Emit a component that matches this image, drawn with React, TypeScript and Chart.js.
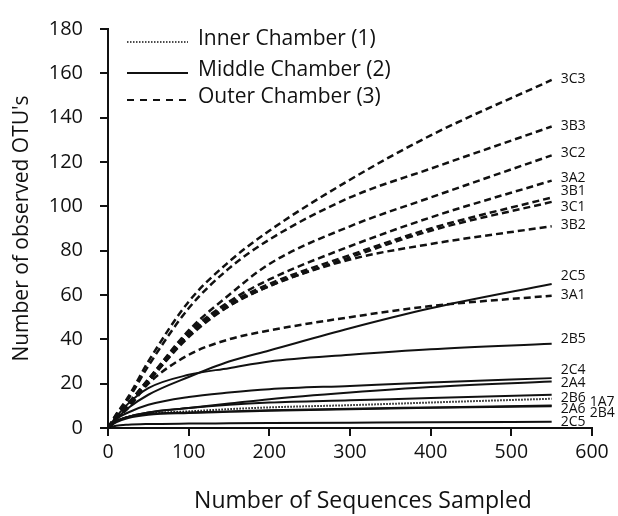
import React, { useEffect, useRef } from 'react';
import { Chart, registerables } from 'chart.js';

Chart.register(...registerables);

// Number of sequences sampled (x values)
const sequences = [0, 10, 25, 50, 100, 150, 200, 300, 400, 550];

// Observed OTUs per sample (y values)
const s3C3 = [0, 6, 14, 30, 57, 75, 89, 112, 132, 157];
const s3B3 = [0, 6, 13, 28, 54, 72, 85, 104, 117, 136];
const s3C2 = [0, 5, 11, 22, 44, 60, 74, 91, 104, 123];
const s3A2 = [0, 5, 11, 22, 43, 57, 67, 82, 95, 111.6];
const s3B1 = [0, 5, 11, 21, 42, 56, 65, 78, 90, 104];
const s3C1 = [0, 5, 11, 21, 42, 55, 64, 77, 89, 102];
const s3B2 = [0, 5, 10, 21, 41, 55, 64, 76, 83, 91];
const s3A1 = [0, 4, 9, 20, 33, 40, 44, 50, 55, 59.7];
const s2C5a = [0, 4, 9, 15, 23, 30, 35, 45, 54, 65];
const s2B5 = [0, 5, 11, 18, 24, 27, 30, 33, 35.5, 38];
const s2C4 = [0, 4, 7, 10.5, 14, 16, 17.5, 19, 20.5, 22.5];
const s2A4 = [0, 3, 5, 7, 9, 11, 13, 16, 18.5, 21];
const s2B6 = [0, 3, 5, 7, 9, 10.5, 11.5, 12.5, 13.5, 15];
const s1A7 = [0, 3, 5, 6.5, 7.5, 8.5, 9.3, 10.3, 11.5, 13.2];
const s2A6 = [0, 3, 5, 6.3, 7, 7.5, 8, 8.7, 9.3, 10.2];
const s2B4 = [0, 2.5, 4.5, 6, 6.8, 7.3, 7.8, 8.5, 9.1, 9.8];
const s2C5b = [0, 1, 1.5, 1.8, 2, 2.1, 2.2, 2.4, 2.6, 2.8];

const sampleNames = ['3C3', '3B3', '3C2', '3A2', '3B1', '3C1', '3B2', '3A1', '2C5', '2B5', '2C4', '2A4', '2B6', '1A7', '2A6', '2B4', '2C5'];
const sampleChambers = [3, 3, 3, 3, 3, 3, 3, 3, 2, 2, 2, 2, 2, 1, 2, 2, 2];
const sampleValues = [s3C3, s3B3, s3C2, s3A2, s3B1, s3C1, s3B2, s3A1, s2C5a, s2B5, s2C4, s2A4, s2B6, s1A7, s2A6, s2B4, s2C5b];

const legendLabels = ['Inner Chamber (1)', 'Middle Chamber (2)', 'Outer Chamber (3)'];

const xTicks = [0, 100, 200, 300, 400, 500, 600];
const yTicks = [0, 20, 40, 60, 80, 100, 120, 140, 160, 180];

// label placement tweaks (pixels) [dx, dy]
const labelOffsets: [number, number][] = [
  [9, -1], [9, -1], [9, -2], [9, -2.5], [9, -6], [9, 5], [9, -1], [9, -1],
  [9, -8], [9, -5], [9, -8], [9, 2], [9, 3], [38, 3], [9, 4], [38, 7], [9, 0],
];

const FONT = "'Open Sans', sans-serif";

const chamberStyle = (c: number) => {
  if (c === 1) return { borderDash: [1.5, 1.5], borderWidth: 2 };
  if (c === 2) return { borderDash: [], borderWidth: 2 };
  return { borderDash: [7, 4], borderWidth: 2.5 };
};

export default function App() {
  const ref = useRef<HTMLCanvasElement>(null);

  useEffect(() => {
    document.body.style.margin = '0';
    const canvas = ref.current;
    if (!canvas) return;

    const endLabels = {
      id: 'endLabels',
      afterDatasetsDraw(chart: any) {
        const ctx = chart.ctx;
        ctx.save();
        ctx.font = `14px ${FONT}`;
        ctx.fillStyle = '#111';
        ctx.textAlign = 'left';
        ctx.textBaseline = 'middle';
        chart.data.datasets.forEach((ds: any, i: number) => {
          const meta = chart.getDatasetMeta(i);
          const pt = meta.data[meta.data.length - 1];
          const [dx, dy] = labelOffsets[i];
          ctx.fillText(ds.label, pt.x + dx, pt.y + dy);
        });
        ctx.restore();
      },
    };

    const chamberLegend = {
      id: 'chamberLegend',
      afterDraw(chart: any) {
        const ctx = chart.ctx;
        ctx.save();
        const ys = [42, 73, 100];
        legendLabels.forEach((lab, i) => {
          const st = chamberStyle(i + 1);
          ctx.beginPath();
          ctx.strokeStyle = '#111';
          ctx.lineWidth = i === 0 ? 1.5 : 2;
          ctx.setLineDash(i === 0 ? [1.5, 1.5] : i === 2 ? [7, 6] : []);
          ctx.moveTo(127, ys[i]);
          ctx.lineTo(188, ys[i]);
          ctx.stroke();
          ctx.setLineDash([]);
          ctx.font = `21px ${FONT}`;
          ctx.fillStyle = '#111';
          ctx.textAlign = 'left';
          ctx.textBaseline = 'middle';
          ctx.fillText(lab, 198, ys[i] - 3);
          void st;
        });
        // x axis title
        ctx.font = `23px ${FONT}`;
        ctx.textAlign = 'center';
        ctx.textBaseline = 'middle';
        ctx.fillText('Number of Sequences Sampled', 363, 501);
        ctx.restore();
      },
    };

    const chart = new Chart(canvas, {
      type: 'line',
      data: {
        datasets: sampleValues.map((vals, i) => ({
          label: sampleNames[i],
          data: vals.map((v, j) => ({ x: sequences[j], y: v })),
          borderColor: '#111',
          ...chamberStyle(sampleChambers[i]),
          pointRadius: 0,
          fill: false,
          cubicInterpolationMode: 'monotone',
        })),
      },
      options: {
        responsive: false,
        animation: false,
        layout: { padding: { top: 20, right: 26, left: 0, bottom: 0 } },
        plugins: {
          legend: { display: false },
          tooltip: { enabled: false },
        },
        scales: {
          x: {
            type: 'linear',
            min: 0,
            max: 600,
            afterFit: (s: any) => { s.height = 88; },
            afterBuildTicks: (s: any) => { s.ticks = xTicks.map((v) => ({ value: v })); },
            grid: { drawOnChartArea: false, drawTicks: true, tickLength: 8, color: '#111', lineWidth: 2 },
            border: { display: true, color: '#111', width: 2 },
            ticks: { color: '#111', font: { family: FONT, size: 19.5 }, padding: 5, maxRotation: 0 },
            title: { display: false },
          },
          y: {
            min: 0,
            max: 180,
            afterFit: (s: any) => { s.width = 108; },
            afterBuildTicks: (s: any) => { s.ticks = yTicks.map((v) => ({ value: v })); },
            grid: { drawOnChartArea: false, drawTicks: true, tickLength: 8, color: '#111', lineWidth: 2 },
            border: { display: true, color: '#111', width: 2 },
            ticks: { color: '#111', font: { family: FONT, size: 20 }, padding: 17 },
            title: {
              display: true,
              text: "Number of observed OTU's",
              color: '#111',
              font: { family: FONT, size: 21 },
              padding: { top: 9, bottom: 0 },
            },
          },
        },
      },
      plugins: [endLabels, chamberLegend],
    } as any);

    return () => chart.destroy();
  }, []);

  return (
    <div style={{ width: 618, height: 516 }}>
      <canvas ref={ref} width={618} height={516} style={{ display: 'block' }} />
    </div>
  );
}
